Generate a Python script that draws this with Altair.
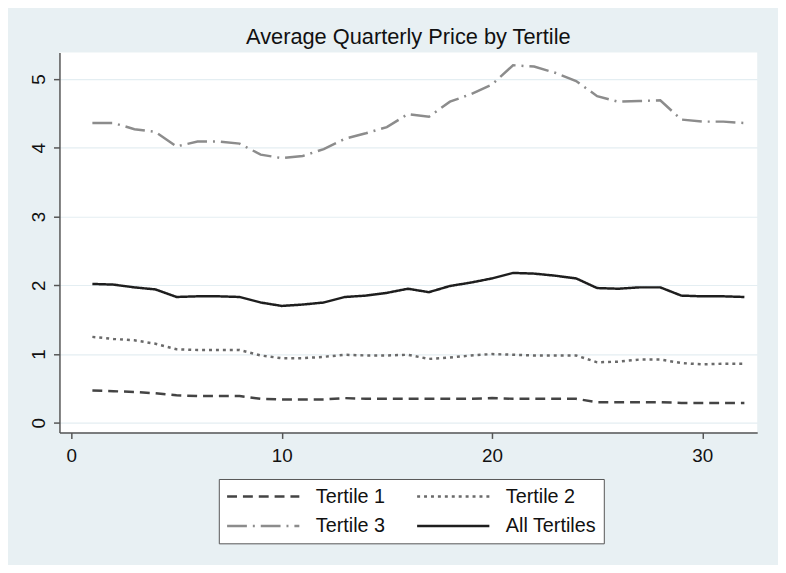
import altair as alt
import pandas as pd

quarters = list(range(1, 33))
tertile1 = [0.47, 0.46, 0.45, 0.43, 0.40, 0.39, 0.39, 0.39, 0.35, 0.34, 0.34, 0.34, 0.36, 0.35, 0.35, 0.35,
            0.35, 0.35, 0.35, 0.36, 0.35, 0.35, 0.35, 0.35, 0.30, 0.30, 0.30, 0.30, 0.29, 0.29, 0.29, 0.29]
tertile2 = [1.25, 1.22, 1.20, 1.15, 1.07, 1.06, 1.06, 1.06, 0.98, 0.94, 0.94, 0.96, 0.99, 0.98, 0.98, 0.99,
            0.93, 0.95, 0.98, 1.00, 0.99, 0.98, 0.98, 0.98, 0.88, 0.89, 0.92, 0.92, 0.87, 0.85, 0.86, 0.86]
tertile3 = [4.36, 4.36, 4.27, 4.23, 4.02, 4.09, 4.09, 4.06, 3.90, 3.85, 3.88, 3.98, 4.13, 4.21, 4.30, 4.49,
            4.45, 4.67, 4.78, 4.92, 5.20, 5.18, 5.09, 4.97, 4.75, 4.67, 4.68, 4.69, 4.41, 4.38, 4.38, 4.36]
all_tertiles = [2.02, 2.01, 1.97, 1.94, 1.83, 1.84, 1.84, 1.83, 1.75, 1.70, 1.72, 1.75, 1.83, 1.85, 1.89, 1.95,
                1.90, 1.99, 2.04, 2.10, 2.18, 2.17, 2.14, 2.10, 1.96, 1.95, 1.97, 1.97, 1.85, 1.84, 1.84, 1.83]

series_names = ["Tertile 1", "Tertile 2", "Tertile 3", "All Tertiles"]
series_values = [tertile1, tertile2, tertile3, all_tertiles]
colors = ["#444444", "#6a6a6a", "#8c8c8c", "#1e1e1e"]
dashes = [[10, 6], [3, 4], [20, 6, 2, 6], [1, 0]]

rows = []
for name, vals in zip(series_names, series_values):
    for q, v in zip(quarters, vals):
        rows.append({"quarter": q, "price": v, "series": name})
df = pd.DataFrame(rows)

FONT = "Liberation Sans"

chart = alt.Chart(df).mark_line(strokeWidth=2.5).encode(
    x=alt.X("quarter:Q",
            scale=alt.Scale(domain=[-0.565, 32.61], nice=False, zero=False),
            axis=alt.Axis(values=[0, 10, 20, 30], title=None, grid=False,
                          labelFontSize=19, labelPadding=8, tickSize=6)),
    y=alt.Y("price:Q",
            scale=alt.Scale(domain=[-0.14, 5.386], nice=False, zero=False),
            axis=alt.Axis(values=[0, 1, 2, 3, 4, 5], title=None, grid=True,
                          gridColor="#e4eef2", gridWidth=1.2,
                          labelAngle=-90, labelAlign="center", labelBaseline="alphabetic",
                          labelFontSize=19, labelPadding=9, tickSize=6)),
    color=alt.Color("series:N",
                    scale=alt.Scale(domain=series_names, range=colors),
                    sort=series_names,
                    legend=alt.Legend(orient="none", legendX=161, legendY=431, columns=2,
                                      direction="horizontal",
                                      title=None, symbolType="M-1,0H7", symbolSize=333,
                                      symbolStrokeWidth=2.5, labelFontSize=20, labelFont=FONT,
                                      labelColor="#111111", labelOffset=70, columnPadding=26,
                                      rowPadding=9, padding=7, strokeColor="#555555",
                                      fillColor="white")),
    strokeDash=alt.StrokeDash("series:N",
                              scale=alt.Scale(domain=series_names, range=dashes),
                              sort=series_names),
).properties(
    width=705,
    height=384,
    background="#e8f0f3",
    title=alt.Title("Average Quarterly Price by Tertile", fontSize=22, font=FONT,
                    fontWeight="normal", color="#111111", anchor="middle", offset=4),
    autosize=alt.AutoSizeParams(type="none"),
    padding={"left": 52, "top": 42, "right": 21, "bottom": 131},
).configure_view(
    fill="white", stroke=None
).configure_axis(
    labelFont=FONT, labelColor="#111111", domainColor="#555555", domainWidth=1.5,
    tickColor="#555555", tickWidth=1.5
)

chart.save("out.html", embed_options={"renderer": "svg", "actions": False})
